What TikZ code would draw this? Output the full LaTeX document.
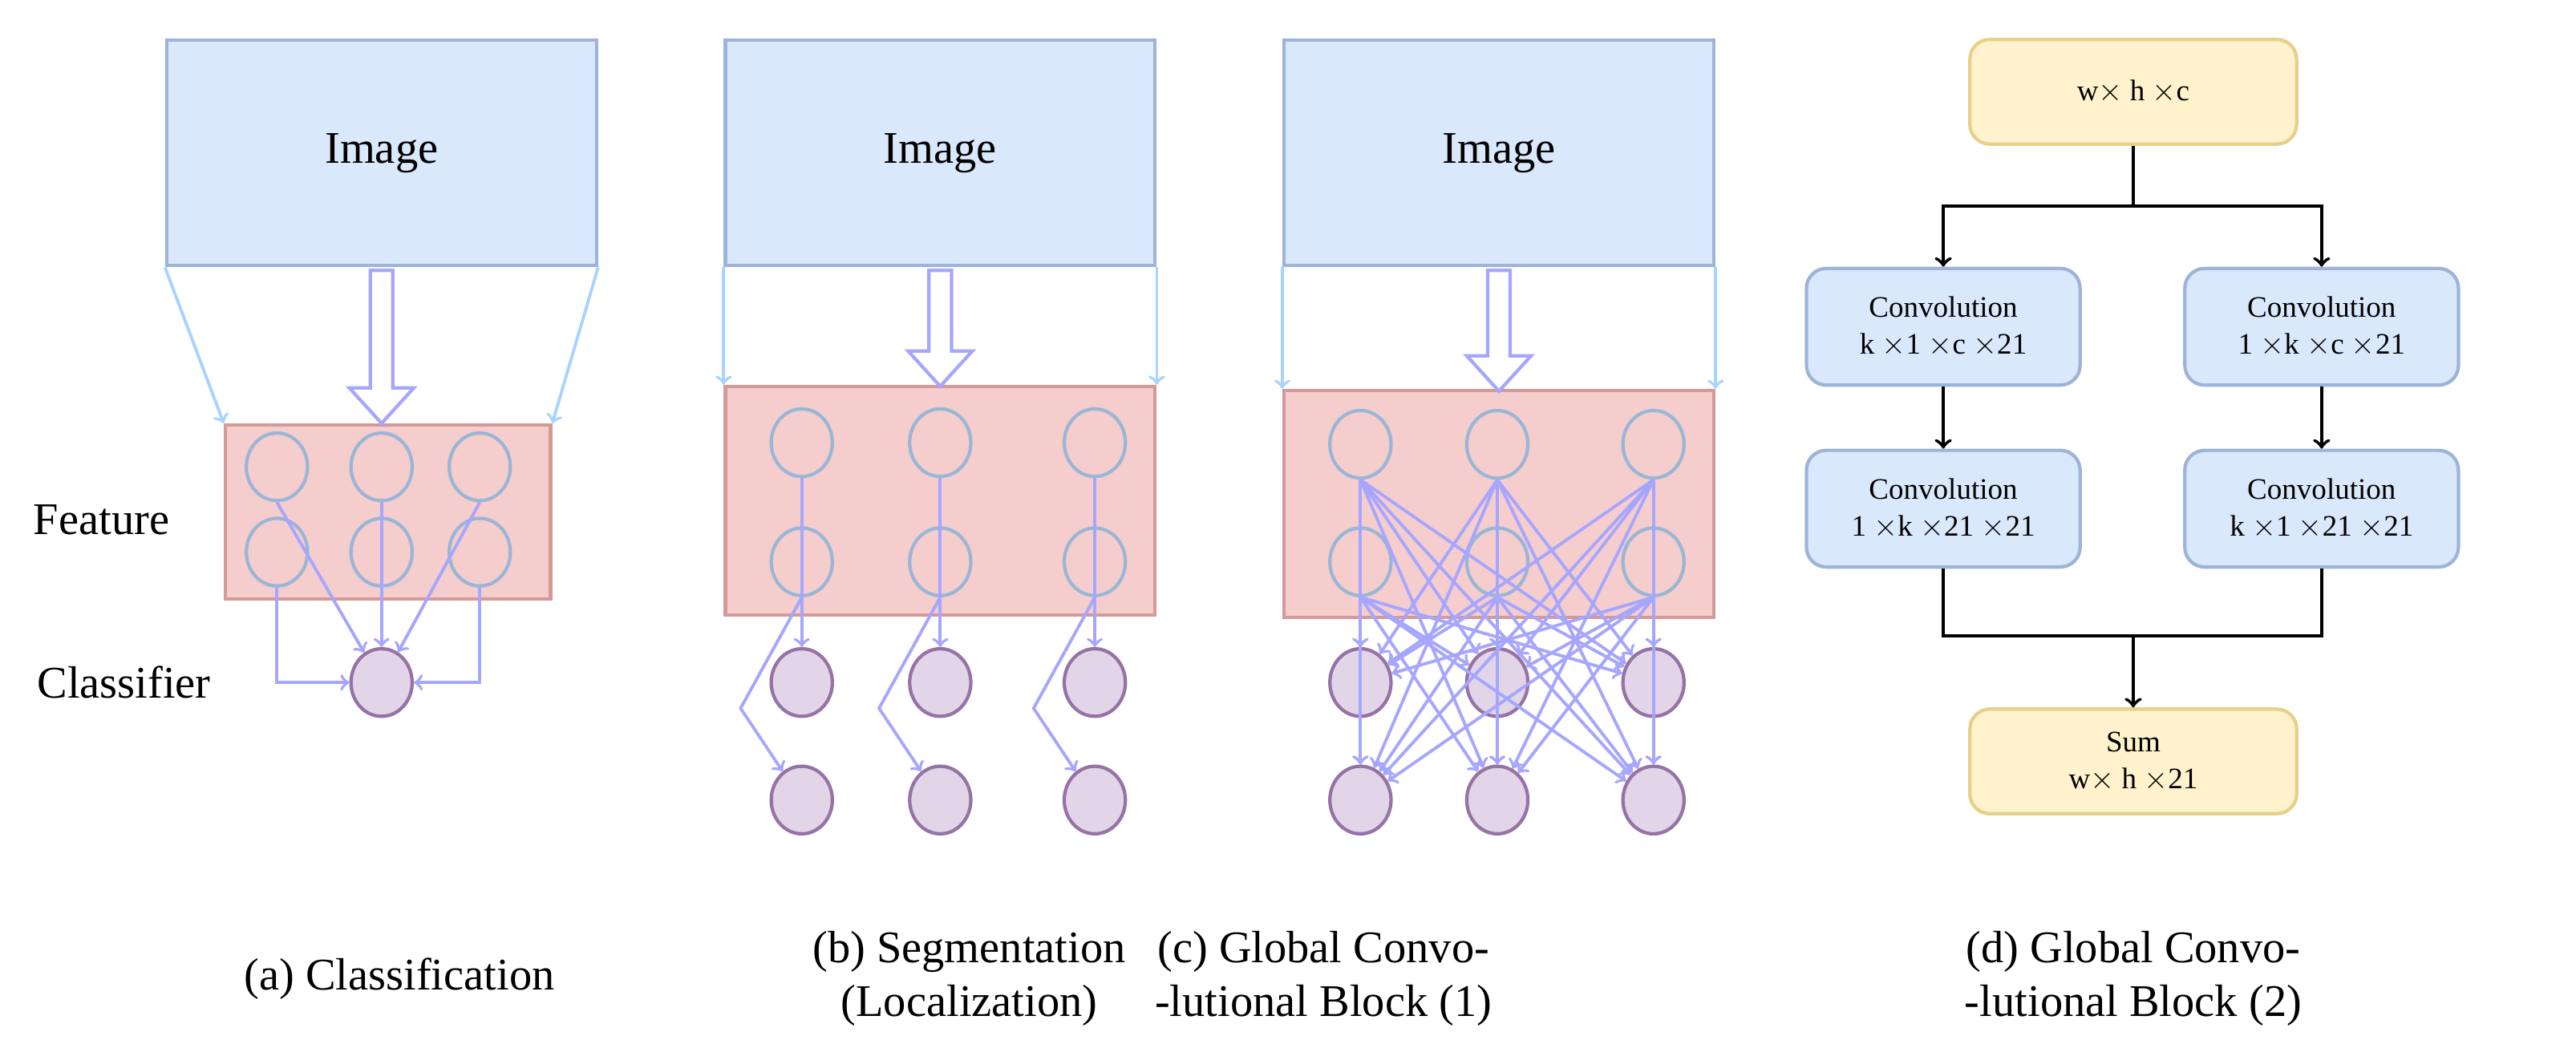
\documentclass[tikz,border=0pt]{standalone}
\usepackage{fontspec}
\setmainfont{Liberation Serif}
\usetikzlibrary{positioning,calc,shapes.geometric}
\definecolor{imgblue}{HTML}{DAE8FC}
\definecolor{imgline}{HTML}{9DB4D8}
\definecolor{featred}{HTML}{F5CDCC}
\definecolor{featline}{HTML}{D49A98}
\definecolor{cellline}{HTML}{9AB6D6}
\definecolor{outfill}{HTML}{E1D5E7}
\definecolor{outline}{HTML}{9673A6}
\definecolor{flowcol}{HTML}{A6A6FF}
\definecolor{sidecol}{HTML}{A9D3FF}
\definecolor{sumfill}{HTML}{FFF2CC}
\definecolor{sumline}{HTML}{E8D08A}

\begin{document}
\begin{tikzpicture}[x=0.02cm,y=-0.02cm,
  imgnode/.style={draw=imgline,fill=imgblue,line width=1.2pt,minimum width=5.34cm,minimum height=2.8cm,font=\fontsize{16}{19}\selectfont},
  featnode/.style={draw=featline,fill=featred,line width=1.2pt},
  cellnode/.style={ellipse,draw=cellline,line width=1.2pt,minimum width=0.76cm,minimum height=0.84cm},
  outnode/.style={ellipse,draw=outline,fill=outfill,line width=1.2pt,minimum width=0.76cm,minimum height=0.84cm},
  flow/.style={->,draw=flowcol,line width=1.1pt},
  side/.style={->,draw=sidecol,line width=1.1pt},
  hollow/.style={draw=flowcol,fill=white,line width=1.2pt},
  convnode/.style={draw=imgline,fill=imgblue,rounded corners=7pt,line width=1.2pt,minimum width=3.4cm,minimum height=1.45cm,align=center,font=\fontsize{10.5}{13}\selectfont},
  sumnode/.style={draw=sumline,fill=sumfill,rounded corners=7pt,line width=1.2pt,minimum width=4.06cm,minimum height=1.3cm,align=center,font=\fontsize{10.5}{13}\selectfont},
  link/.style={->,line width=1.2pt},
  capnode/.style={align=center,font=\fontsize{16}{19}\selectfont}
]
\useasboundingbox (0,0) rectangle (1600,646);

% (a) classification
\node[imgnode] (aimg) at (237,95) {Image};
\node[featnode,minimum width=4.04cm,minimum height=2.16cm] (afeat) at (241,318) {};
\node[cellnode] (a1) at (172,290) {};
\node[cellnode] (a2) at (237,290) {};
\node[cellnode] (a3) at (298,290) {};
\node[cellnode] (a4) at (172,343) {};
\node[cellnode] (a5) at (237,343) {};
\node[cellnode] (a6) at (298,343) {};
\node[outnode] (acl) at (237,424) {};
\draw[side] (aimg.south west) -- (afeat.north west);
\draw[side] (aimg.south east) -- (afeat.north east);
\draw[flow] (a1.south) -- (acl);
\draw[flow] (a2.south) -- (acl);
\draw[flow] (a3.south) -- (acl);
\draw[flow] (a4.south) |- (acl);
\draw[flow] (a6.south) |- (acl);
\node[font=\fontsize{16}{19}\selectfont] (flabel) at (63,323) {Feature};
\node[font=\fontsize{16}{19}\selectfont] (clabel) at (77,424) {Classifier};
\node[capnode] (acap) at (248,608) {(a) Classification};

% (b) segmentation
\node[imgnode] (bimg) at (584,95) {Image};
\node[featnode,minimum width=5.34cm,minimum height=2.84cm] (bfeat) at (584,311) {};
\draw[side] (bimg.south west) -- (bfeat.north west);
\draw[side] (bimg.south east) -- (bfeat.north east);
\foreach \n/\x in {1/498,2/584,3/680}{
  \node[cellnode] (bt\n) at (\x,275) {};
  \node[cellnode] (bb\n) at (\x,349) {};
  \node[outnode] (bo\n) at (\x,424) {};
  \node[outnode] (bp\n) at (\x,497) {};
  \coordinate (bk\n) at ({\x-38},440);
  \draw[flow] (bt\n.south) -- (bo\n);
  \draw[flow] (bb\n.south) -- (bk\n) -- (bp\n);
}
\node[capnode] (bcap) at (602,608) {(b) Segmentation\\(Localization)};

% (c) global convolutional block
\node[imgnode] (cimg) at (931,95) {Image};
\node[featnode,minimum width=5.34cm,minimum height=2.82cm] (cfeat) at (931,313) {};
\draw[side] (cimg.south west) -- (cfeat.north west);
\draw[side] (cimg.south east) -- (cfeat.north east);
\foreach \n/\x in {1/845,2/930,3/1027}{
  \node[cellnode] (ct\n) at (\x,276) {};
  \node[cellnode] (cb\n) at (\x,349) {};
  \node[outnode] (co\n) at (\x,424) {};
  \node[outnode] (cp\n) at (\x,497) {};
}
\foreach \s in {ct1,ct2,ct3,cb1,cb2,cb3}
  \foreach \t in {co1,co2,co3,cp1,cp2,cp3}
    \draw[flow] (\s.south) -- (\t);
\node[capnode] (ccap) at (822,608) {(c) Global Convo-\\-lutional Block (1)};

% hollow arrows from image to feature
\foreach \x/\b in {237/263,584/240,931/243}
  \draw[hollow] ({\x-7},168) -- ({\x-7},{\b-22}) -- ({\x-20},{\b-22}) -- (\x,\b)
    -- ({\x+20},{\b-22}) -- ({\x+7},{\b-22}) -- ({\x+7},168) -- cycle;

% (d) global convolutional block
\node[sumnode] (inp) at (1325,57) {w$\times$ h $\times$c};
\node[convnode] (cv1) at (1207,203) {Convolution\\k $\times$1 $\times$c $\times$21};
\node[convnode] (cv2) at (1442,203) {Convolution\\1 $\times$k $\times$c $\times$21};
\node[convnode] (cv3) at (1207,316) {Convolution\\1 $\times$k $\times$21 $\times$21};
\node[convnode] (cv4) at (1442,316) {Convolution\\k $\times$1 $\times$21 $\times$21};
\node[sumnode] (sum) at (1325,473) {Sum\\w$\times$ h $\times$21};
\coordinate (split) at (1325,128);
\coordinate (merge) at (1325,395);
\draw[line width=1.2pt] (inp) -- (split);
\draw[link] (split) -| (cv1);
\draw[link] (split) -| (cv2);
\draw[link] (cv1) -- (cv3);
\draw[link] (cv2) -- (cv4);
\draw[line width=1.2pt] (cv3.south) |- (merge);
\draw[line width=1.2pt] (cv4.south) |- (merge);
\draw[link] (merge) -- (sum);
\node[capnode] (dcap) at (1325,608) {(d) Global Convo-\\-lutional Block (2)};
\end{tikzpicture}
\end{document}
